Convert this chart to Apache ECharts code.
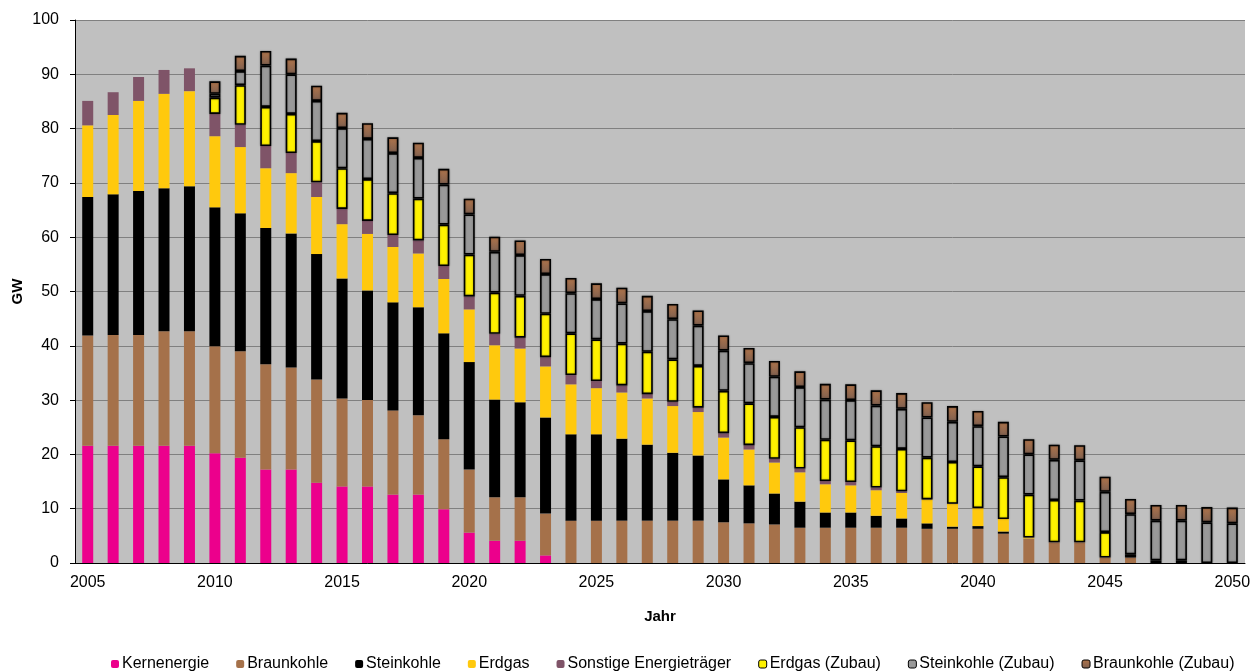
<!DOCTYPE html>
<html>
<head>
<meta charset="utf-8">
<script src="https://cdn.jsdelivr.net/npm/echarts@6/dist/echarts.min.js"></script>
<style>
    html, body { margin: 0; padding: 0; background: #ffffff; }
    #chart { width: 1259px; height: 672px; }
</style>
</head>
<body>
<div id="chart"></div>
<script>
var years = [];
for (var y = 2005; y <= 2050; y++) years.push(String(y));

var kernenergie = [21.6, 21.6, 21.6, 21.6, 21.6, 20.2, 19.4, 17.2, 17.2, 14.8,
    14.1, 14.1, 12.6, 12.6, 9.9, 5.6, 4.1, 4.1, 1.4, 0,
    0, 0, 0, 0, 0, 0, 0, 0, 0, 0,
    0, 0, 0, 0, 0, 0, 0, 0, 0, 0,
    0, 0, 0, 0, 0, 0];
var braunkohle = [20.3, 20.4, 20.4, 21.1, 21.1, 19.7, 19.6, 19.4, 18.8, 19.0,
    16.2, 15.9, 15.5, 14.6, 12.9, 11.6, 8.0, 8.0, 7.7, 7.8,
    7.8, 7.8, 7.8, 7.8, 7.8, 7.5, 7.3, 7.1, 6.5, 6.5,
    6.5, 6.5, 6.5, 6.3, 6.3, 6.3, 5.4, 4.5, 3.8, 3.8,
    1.0, 1.0, 0, 0, 0, 0];
var steinkohle = [25.5, 25.9, 26.5, 26.3, 26.7, 25.6, 25.4, 25.1, 24.7, 23.1,
    22.1, 20.2, 19.9, 19.9, 19.5, 19.8, 18.0, 17.5, 17.7, 15.9,
    15.9, 15.1, 14.0, 12.5, 12.0, 7.9, 7.0, 5.7, 4.8, 2.8,
    2.8, 2.2, 1.7, 1.0, 0.4, 0.5, 0.4, 0, 0, 0,
    0, 0, 0, 0, 0, 0];
var erdgas = [13.2, 14.6, 16.6, 17.4, 17.5, 13.1, 12.2, 11.0, 11.1, 10.5,
    10.0, 10.4, 10.2, 9.9, 10.0, 9.7, 10.0, 9.9, 9.4, 9.2,
    8.5, 8.5, 8.5, 8.6, 8.0, 7.7, 6.6, 5.7, 5.4, 5.2,
    5.0, 4.7, 4.7, 4.4, 4.2, 3.3, 2.3, 0.2, 0, 0,
    0, 0, 0, 0, 0, 0];
var sonstige = [4.5, 4.2, 4.4, 4.4, 4.2, 4.1, 4.1, 4.1, 3.7, 2.7,
    2.8, 2.4, 2.2, 2.4, 2.4, 2.4, 2.1, 2.0, 1.7, 1.7,
    1.3, 1.3, 0.8, 0.8, 0.8, 0.8, 0.8, 0.7, 0.7, 0.6,
    0.6, 0.5, 0.3, 0, 0, 0, 0, 0, 0, 0,
    0, 0, 0, 0, 0, 0];
var erdgasZubau = [0, 0, 0, 0, 0, 3.0, 7.3, 7.2, 7.2, 7.6,
    7.5, 7.7, 7.7, 7.7, 7.6, 7.7, 7.6, 7.7, 8.0, 7.7,
    7.7, 7.7, 7.8, 7.8, 7.7, 7.8, 7.7, 7.7, 7.6, 7.6,
    7.7, 7.6, 7.8, 7.7, 7.7, 7.7, 7.7, 7.9, 7.8, 7.7,
    4.7, 0.6, 0.5, 0.5, 0, 0];
var steinkohleZubau = [0, 0, 0, 0, 0, 0.7, 2.6, 7.6, 7.3, 7.4,
    7.4, 7.4, 7.4, 7.5, 7.4, 7.4, 7.5, 7.5, 7.3, 7.4,
    7.4, 7.4, 7.5, 7.4, 7.4, 7.4, 7.4, 7.4, 7.4, 7.4,
    7.4, 7.5, 7.4, 7.4, 7.4, 7.4, 7.5, 7.4, 7.4, 7.4,
    7.4, 7.4, 7.3, 7.3, 7.5, 7.3];
var braunkohleZubau = [0, 0, 0, 0, 0, 2.3, 2.8, 2.7, 2.9, 2.8,
    2.8, 2.9, 2.9, 2.8, 2.9, 2.9, 2.8, 2.7, 2.8, 2.8,
    2.9, 2.9, 2.8, 2.8, 2.8, 2.8, 2.8, 2.9, 2.9, 2.9,
    2.9, 2.8, 2.9, 2.8, 2.9, 2.8, 2.7, 2.8, 2.8, 2.8,
    2.8, 2.8, 2.9, 2.9, 2.8, 2.9];

var fontName = "Liberation Sans";

function makeSeries(name, data, color, zubau) {
    return {
        name: name,
        type: "bar",
        stack: "gw",
        barWidth: 11,
        data: data.map(function (v) { return v === 0 ? "-" : v; }),
        itemStyle: zubau ? {
            color: color,
            borderColor: "#000000",
            borderWidth: 1.6,
            shadowColor: "rgba(0,0,0,0.35)",
            shadowBlur: 2
        } : { color: color },
        emphasis: { disabled: true }
    };
}

var myChart = echarts.init(document.getElementById("chart"));

var braunGradient = new echarts.graphic.LinearGradient(0, 0, 0, 1, [
    { offset: 0, color: "#b0744a" },
    { offset: 1, color: "#7e6050" }
]);

var option = {
    animation: false,
    backgroundColor: "#ffffff",
    textStyle: { fontFamily: fontName },
    grid: {
        left: 75,
        right: 14,
        top: 20,
        bottom: 109,
        show: true,
        backgroundColor: "#c0c0c0",
        borderWidth: 0,
        outerBoundsMode: "none",
        containLabel: false
    },
    legend: {
        bottom: 0,
        left: 106,
        padding: [0, 5],
        itemWidth: 8,
        itemHeight: 8,
        itemGap: 27,
        textStyle: { color: "#000000", fontSize: 16, fontFamily: fontName, padding: [0, 0, 0, -2] },
        data: ["Kernenergie", "Braunkohle", "Steinkohle", "Erdgas", "Sonstige Energieträger",
            { name: "Erdgas (Zubau)", itemStyle: { borderWidth: 1 } },
            { name: "Steinkohle (Zubau)", itemStyle: { borderWidth: 1 } },
            { name: "Braunkohle (Zubau)", itemStyle: { borderWidth: 1 } }]
    },
    xAxis: {
        type: "category",
        data: years,
        name: "Jahr",
        nameLocation: "middle",
        nameGap: 46,
        nameMoveOverlap: false,
        nameTextStyle: { fontWeight: "bold", fontSize: 15, color: "#000000" },
        axisLine: { lineStyle: { color: "#000000", width: 1 } },
        axisTick: { interval: 0, length: 5, lineStyle: { color: "#000000" } },
        axisLabel: { interval: 4, fontSize: 16, color: "#000000", margin: 12 }
    },
    yAxis: {
        type: "value",
        min: 0,
        max: 100,
        interval: 10,
        name: "GW",
        nameLocation: "middle",
        nameRotate: 90,
        nameGap: 50,
        nameMoveOverlap: false,
        nameTextStyle: { fontWeight: "bold", fontSize: 15, color: "#000000" },
        axisLine: { show: true, lineStyle: { color: "#000000", width: 1 } },
        axisTick: { show: true, length: 5, lineStyle: { color: "#000000" } },
        axisLabel: { fontSize: 16, color: "#000000", margin: 16 },
        splitLine: { lineStyle: { color: "#808080", width: 1 } }
    },
    series: [
        makeSeries("Kernenergie", kernenergie, "#ec008c", false),
        makeSeries("Braunkohle", braunkohle, "#a5714a", false),
        makeSeries("Steinkohle", steinkohle, "#000000", false),
        makeSeries("Erdgas", erdgas, "#ffc90d", false),
        makeSeries("Sonstige Energieträger", sonstige, "#7f5468", false),
        makeSeries("Erdgas (Zubau)", erdgasZubau, "#fff200", true),
        makeSeries("Steinkohle (Zubau)", steinkohleZubau, "#999999", true),
        makeSeries("Braunkohle (Zubau)", braunkohleZubau, braunGradient, true)
    ]
};

myChart.setOption(option);
window.addEventListener("resize", function () {
    myChart.resize();
});
</script>
</body>
</html>
